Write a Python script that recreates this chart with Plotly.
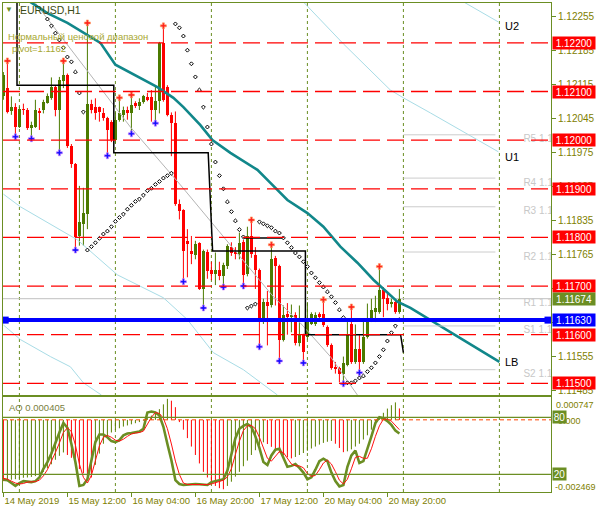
"""EURUSD H1 chart in MT4 style: candles, indicators, pivot levels, AO + stochastic pane."""

import plotly.graph_objects as go

# ---------------------------------------------------------------- data
# bar 0 = 14 May 2019 20:00, one bar per hour (weekend skipped)
bar_open = [
    1.12090, 1.12107, 1.12059, 1.12068, 1.12028, 1.12064, 1.12062, 1.12025, 1.12028, 1.12060,
    1.12061, 1.12077, 1.12086, 1.12110, 1.12062, 1.12122, 1.12134, 1.11989, 1.11950, 1.11803,
    1.11827, 1.11848, 1.12074, 1.12068, 1.12068, 1.12055, 1.12045, 1.12038, 1.12000, 1.12042,
    1.12052, 1.12062, 1.12055, 1.12076, 1.12070, 1.12079, 1.12088, 1.12088, 1.12062, 1.12081,
    1.12199, 1.12109, 1.12052, 1.12035, 1.11868, 1.11856, 1.11793, 1.11773, 1.11764, 1.11788,
    1.11693, 1.11770, 1.11732, 1.11725, 1.11732, 1.11721, 1.11742, 1.11781, 1.11769, 1.11766,
    1.11790, 1.11725, 1.11802, 1.11764, 1.11734, 1.11626, 1.11667, 1.11661, 1.11757, 1.11742,
    1.11589, 1.11643, 1.11636, 1.11641, 1.11582, 1.11599, 1.11595, 1.11623, 1.11622, 1.11643,
    1.11643, 1.11616, 1.11578, 1.11534, 1.11531, 1.11520, 1.11538, 1.11621, 1.11544, 1.11570,
    1.11544, 1.11595, 1.11630, 1.11647, 1.11647, 1.11691, 1.11676, 1.11664, 1.11667, 1.11647,
]
bar_high = [
    1.12140, 1.12158, 1.12090, 1.12076, 1.12069, 1.12075, 1.12066, 1.12038, 1.12083, 1.12066,
    1.12083, 1.12096, 1.12129, 1.12113, 1.12130, 1.12158, 1.12137, 1.11992, 1.11953, 1.11906,
    1.11902, 1.12238, 1.12083, 1.12086, 1.12069, 1.12066, 1.12048, 1.12041, 1.12057, 1.12083,
    1.12069, 1.12069, 1.12090, 1.12080, 1.12086, 1.12093, 1.12097, 1.12103, 1.12113, 1.12202,
    1.12233, 1.12113, 1.12057, 1.12059, 1.11878, 1.11858, 1.11817, 1.11803, 1.11793, 1.11790,
    1.11775, 1.11775, 1.11750, 1.11769, 1.11750, 1.11748, 1.11786, 1.11790, 1.11780, 1.11810,
    1.11795, 1.11822, 1.11836, 1.11780, 1.11736, 1.11674, 1.11690, 1.11785, 1.11762, 1.11744,
    1.11660, 1.11665, 1.11662, 1.11646, 1.11660, 1.11602, 1.11667, 1.11646, 1.11646, 1.11646,
    1.11672, 1.11619, 1.11582, 1.11544, 1.11534, 1.11555, 1.11626, 1.11659, 1.11621, 1.11599,
    1.11630, 1.11664, 1.11674, 1.11680, 1.11742, 1.11698, 1.11684, 1.11674, 1.11670, 1.11694,
]
bar_low = [
    1.12083, 1.12055, 1.12052, 1.12012, 1.12025, 1.12052, 1.12021, 1.12008, 1.12025, 1.12021,
    1.12055, 1.12075, 1.12083, 1.12049, 1.11977, 1.12107, 1.11984, 1.11943, 1.11780, 1.11783,
    1.11783, 1.11817, 1.12055, 1.12042, 1.12038, 1.12040, 1.11972, 1.11996, 1.11993, 1.12038,
    1.12038, 1.12042, 1.12018, 1.12066, 1.12062, 1.12075, 1.12080, 1.12038, 1.12038, 1.12055,
    1.12079, 1.12049, 1.11967, 1.11865, 1.11837, 1.11713, 1.11718, 1.11745, 1.11755, 1.11692,
    1.11660, 1.11715, 1.11712, 1.11702, 1.11712, 1.11702, 1.11735, 1.11762, 1.11755, 1.11755,
    1.11702, 1.11720, 1.11758, 1.11694, 1.11578, 1.11622, 1.11578, 1.11656, 1.11660, 1.11548,
    1.11586, 1.11600, 1.11605, 1.11578, 1.11576, 1.11546, 1.11590, 1.11620, 1.11618, 1.11630,
    1.11616, 1.11575, 1.11528, 1.11520, 1.11502, 1.11501, 1.11535, 1.11540, 1.11540, 1.11526,
    1.11540, 1.11592, 1.11626, 1.11626, 1.11643, 1.11636, 1.11650, 1.11656, 1.11643, 1.11643,
]
bar_close = [
    1.12134, 1.12058, 1.12069, 1.12028, 1.12065, 1.12062, 1.12026, 1.12032, 1.12062, 1.12057,
    1.12079, 1.12090, 1.12109, 1.12062, 1.12124, 1.12134, 1.11987, 1.11950, 1.11800, 1.11831,
    1.11851, 1.12075, 1.12062, 1.12055, 1.12057, 1.12045, 1.12021, 1.12000, 1.12042, 1.12055,
    1.12062, 1.12055, 1.12072, 1.12070, 1.12079, 1.12090, 1.12084, 1.12062, 1.12081, 1.12199,
    1.12083, 1.12052, 1.12035, 1.11868, 1.11854, 1.11773, 1.11786, 1.11766, 1.11786, 1.11694,
    1.11773, 1.11730, 1.11725, 1.11732, 1.11721, 1.11744, 1.11783, 1.11769, 1.11766, 1.11788,
    1.11722, 1.11802, 1.11765, 1.11732, 1.11628, 1.11667, 1.11660, 1.11756, 1.11742, 1.11589,
    1.11641, 1.11636, 1.11641, 1.11582, 1.11599, 1.11565, 1.11626, 1.11643, 1.11640, 1.11636,
    1.11619, 1.11578, 1.11531, 1.11531, 1.11520, 1.11541, 1.11602, 1.11544, 1.11570, 1.11544,
    1.11595, 1.11632, 1.11650, 1.11654, 1.11691, 1.11674, 1.11664, 1.11667, 1.11647, 1.11674,
]

# Parabolic SAR, bars 11..99
sar_first_bar = 11
sar_values = [
    1.12249, 1.12235, 1.12220, 1.12206, 1.12190, 1.12171, 1.12161, 1.12140, 1.12097, 1.12058,
    1.11774, 1.11781, 1.11789, 1.11798, 1.11807, 1.11813, 1.11822, 1.11833, 1.11841, 1.11848,
    1.11858, 1.11866, 1.11874, 1.11879, 1.11887, 1.11896, 1.11901, 1.11909, 1.11915, 1.11922,
    1.11927, 1.11932,
    1.12239, 1.12231, 1.12214, 1.12185, 1.12157, 1.12130, 1.12103, 1.12068, 1.12027, 1.11992,
    1.11955, 1.11927, 1.11900, 1.11873, 1.11853, 1.11834, 1.11816, 1.11801,
    1.11655, 1.11659, 1.11663,
    1.11832, 1.11828, 1.11824, 1.11820, 1.11813, 1.11809, 1.11799, 1.11789, 1.11779, 1.11768,
    1.11760, 1.11750, 1.11740, 1.11727, 1.11717, 1.11707, 1.11698, 1.11688, 1.11678, 1.11666,
    1.11651, 1.11635,
    1.11501, 1.11501, 1.11505, 1.11511, 1.11515, 1.11524, 1.11532, 1.11542, 1.11555, 1.11569,
    1.11587, 1.11604, 1.11618, 1.11631,
]

# Bill Williams fractals
fractal_up_bars = [1, 15, 21, 29, 32, 40, 62, 67, 80, 87, 94]
fractal_up_prices = [1.12163, 1.12163, 1.12241, 1.12087, 1.12093, 1.12235,
                     1.11836, 1.11785, 1.11672, 1.11657, 1.11740]
fractal_dn_bars = [3, 7, 14, 18, 26, 32, 38, 45, 50, 55, 60, 64, 69, 75, 85, 89]
fractal_dn_prices = [1.12007, 1.12003, 1.11974, 1.11774, 1.11968, 1.12013, 1.12035, 1.11709,
                     1.11655, 1.11698, 1.11700, 1.11575, 1.11546, 1.11542, 1.11499, 1.11522]

# teal centre line and its light-blue bands (bar, price)
teal_bars = [6, 11, 16, 24.25, 28, 34.25, 38.5, 42.5, 45, 49.25, 52.25, 56.75, 61, 63.5,
             66.75, 71, 76, 80, 84.25, 88.5, 92.5, 96, 98.5, 101.75, 124]
teal_prices = [1.12288, 1.12261, 1.12241, 1.12200, 1.12155, 1.12128, 1.12109, 1.12087,
               1.12068, 1.12031, 1.12000, 1.11974, 1.11953, 1.11939, 1.11912, 1.11877,
               1.11850, 1.11822, 1.11781, 1.11748, 1.11713, 1.11686, 1.11668, 1.11655, 1.11544]
band_u2_bars = [114.25, 123.75]
band_u2_prices = [1.12288, 1.12243]
band_u1_bars = [75.25, 85, 96.75, 100, 106.75, 115.5, 123.75]
band_u1_prices = [1.12282, 1.12198, 1.12103, 1.12087, 1.12056, 1.12015, 1.11976]
band_l1_bars = [0, 4.25, 18.5, 28.5, 40, 46, 52.5, 60, 68.5]
band_l1_prices = [1.11889, 1.11863, 1.11795, 1.11723, 1.11676, 1.11631, 1.11563, 1.11528, 1.11476]
band_l2_bars = [0, 4.25, 11.75, 16.75, 20, 24.5]
band_l2_prices = [1.11620, 1.11590, 1.11555, 1.11534, 1.11501, 1.11476]

# thin grey trend line
trend_bars = [8, 31.75, 44.25, 56.75, 67.5, 74.25, 81.75, 88.5]
trend_prices = [1.12282, 1.12027, 1.11908, 1.11785, 1.11678, 1.11624, 1.11555, 1.11476]

# "normal price range" step line (black)
range_bars = [3.4, 3.4, 27.6, 27.6, 51.2, 52.3, 75.5, 75.5, 99.3, 100]
range_prices = [1.12300, 1.12113, 1.12113, 1.11974, 1.11974, 1.11772, 1.11772, 1.11600,
                1.11600, 1.11563]
range_hi_bars = [60, 70]
range_hi_prices = [1.11799, 1.11799]

# horizontal objects
red_levels = [1.1220, 1.1210, 1.1200, 1.1190, 1.1180, 1.1170, 1.1160, 1.1150]
blue_level = 1.11630
bid_price = 1.11674

# daily pivots (drawn on the current day)
pivot_names = ["R5", "R4", "R3", "R2", "R1", "S1", "S2"]
pivot_prices = [1.12011, 1.11922, 1.11863, 1.11770, 1.11674, 1.11618, 1.11528]
pivot_start_bar, pivot_end_bar = 100, 123

# period separators (midnight bars)
separator_bars = [4, 28, 52, 76, 100, 124]

price_ticks = [1.12255, 1.12185, 1.12115, 1.12045, 1.11975, 1.11905,
               1.11835, 1.11765, 1.11695, 1.11625, 1.11555, 1.11485]
time_tick_bars = [0, 16, 32, 48, 64, 80, 96]
time_tick_labels = ["14 May 2019", "15 May 12:00", "16 May 04:00", "16 May 20:00",
                    "17 May 12:00", "20 May 04:00", "20 May 20:00"]

# Awesome Oscillator
ao_values = [
    -0.00218, -0.00216, -0.00213, -0.00211, -0.00209, -0.00206, -0.00205, -0.00203, -0.00200, -0.00195,
    -0.00185, -0.00172, -0.00158, -0.00142, -0.00128, -0.00116, -0.00125, -0.00135, -0.00155, -0.00175,
    -0.00190, -0.00200, -0.00205, -0.00160, -0.00120, -0.00085, -0.00060, -0.00045, -0.00036, -0.00030,
    -0.00024, -0.00020, -0.00016, -0.00012, -0.00008, -0.00003, 0.00006, 0.00015, 0.00026, 0.00038,
    0.00055, 0.000747, 0.00068, 0.00045, -0.00008, -0.00035, -0.00065, -0.00095, -0.00125, -0.00155,
    -0.00185, -0.00205, -0.00225, -0.00235, -0.00243, -0.002469, -0.00235, -0.00220, -0.00202, -0.00185,
    -0.00165, -0.00145, -0.00125, -0.00108, -0.00090, -0.00080, -0.00086, -0.00096, -0.00106, -0.00116,
    -0.00126, -0.00133, -0.00137, -0.00132, -0.00125, -0.00118, -0.00110, -0.00102, -0.00095, -0.00088,
    -0.00082, -0.00078, -0.00075, -0.00085, -0.00100, -0.00115, -0.00112, -0.00105, -0.00095, -0.00085,
    -0.00070, -0.00055, -0.00035, -0.00015, 0.00008, 0.00025, 0.00040, 0.00052, 0.00062, 0.000405,
]

# Stochastic %K / %D
stoch_main = [
    14.5, 14, 11, 8, 11, 13, 12.5, 12, 13, 17,
    26, 33, 42, 54, 64, 74, 69, 52, 33, 8,
    9, 15, 33, 54, 62, 62, 59, 55, 54, 56,
    61, 63, 63.5, 64, 65, 68, 85, 86, 85, 82,
    70, 52, 35, 14, 10, 9, 9.5, 9.6, 10, 9.8,
    9.3, 9, 12, 13, 13.5, 15, 24, 40, 58, 68,
    71, 73, 70, 60, 48, 33, 30, 40, 46, 47,
    37, 28, 29, 31, 27, 22, 15, 17, 25, 34,
    36.5, 34, 22, 13, 7.5, 9, 28, 40, 45, 32,
    34, 46, 60, 74, 80, 79, 76, 72, 66, 63,
]
stoch_signal = [
    16, 15, 13, 11, 10, 10.5, 12, 12.5, 12.5, 14,
    18.5, 25, 33.5, 43, 53, 64, 69, 65, 51, 31,
    17, 11, 19, 34, 50, 59, 61, 59, 56, 55,
    57, 60, 62.5, 63.5, 64, 65.5, 73, 80, 85, 84,
    79, 68, 52, 34, 20, 11, 9.5, 9.4, 9.7, 9.8,
    9.7, 9.4, 10, 11.5, 13, 14, 17.5, 26, 41, 55,
    66, 71, 71.5, 68, 59, 47, 37, 34, 39, 44,
    43, 37, 31, 29, 29, 27, 21, 18, 19, 25,
    32, 35, 31, 23, 14, 10, 15, 26, 38, 39,
    37, 37, 47, 60, 71, 78, 78, 76, 71, 67,
]
stoch_levels = [80, 20]

# ---------------------------------------------------------------- style
_FONT = "Liberation Sans, Arial, sans-serif"
_OLIVE = "#6b8e23"
_AXIS_TEXT = "#808000"
_UP = "#4b7a00"
_DOWN = "#ff0000"

# pixel geometry of the two panes (596 x 514 window)
_W, _H = 596, 514
_PLOT_L, _PLOT_R, _PLOT_T, _PLOT_B = 3, 551, 3, 492
_MAIN_BOTTOM_PX, _OSC_TOP_PX = 395, 397

_X_RANGE = [-0.1, 136.9]
_PRICE_RANGE = [1.11476, 1.12282]
_AO_RANGE = [-0.002566, 0.000812]
_STOCH_RANGE = [1.6, 101.3]


def _paper_x(px: float) -> float:
    return (px - _PLOT_L) / (_PLOT_R - _PLOT_L)


def _paper_y(py: float) -> float:
    return 1 - (py - _PLOT_T) / (_PLOT_B - _PLOT_T)


def _segments(xs, y0s, y1s):
    """Vertical segments separated by None, for wicks and histogram bars."""
    sx, sy = [], []
    for x, a, b in zip(xs, y0s, y1s):
        sx += [x, x, None]
        sy += [a, b, None]
    return sx, sy


def _add_candles(fig: go.Figure) -> None:
    idx = list(range(len(bar_open)))
    up = [c >= o for o, c in zip(bar_open, bar_close)]
    for is_up, color in ((True, _UP), (False, _DOWN)):
        sel = [i for i in idx if up[i] == is_up]
        wx, wy = _segments(sel, [bar_low[i] for i in sel], [bar_high[i] for i in sel])
        fig.add_trace(go.Scatter(x=wx, y=wy, mode="lines", hoverinfo="skip",
                                 line=dict(color=color, width=1)))
    fig.add_trace(
        go.Bar(
            x=idx,
            y=[max(abs(c - o), 0.000012) for o, c in zip(bar_open, bar_close)],
            base=[min(o, c) for o, c in zip(bar_open, bar_close)],
            width=0.75,
            marker=dict(color=[_UP if u else _DOWN for u in up], line_width=0),
            hoverinfo="skip",
        )
    )


def _line(fig, xs, ys, color, width, **kw):
    fig.add_trace(go.Scatter(x=xs, y=ys, mode="lines", hoverinfo="skip",
                             line=dict(color=color, width=width), **kw))


fig = go.Figure()

# ---------------------------------------------------------------- main pane
_add_candles(fig)

_line(fig, band_u2_bars, band_u2_prices, "#a8dce6", 1)
_line(fig, band_u1_bars, band_u1_prices, "#a8dce6", 1)
_line(fig, band_l1_bars, band_l1_prices, "#a8dce6", 1)
_line(fig, band_l2_bars, band_l2_prices, "#a8dce6", 1)
_line(fig, trend_bars, trend_prices, "#b4b4b4", 1)
_line(fig, range_bars, range_prices, "#000000", 1.5)
_line(fig, range_hi_bars, range_hi_prices, "#000000", 1.5)
_line(fig, teal_bars, teal_prices, "#11878a", 2.6)

for p in pivot_prices:
    _line(fig, [pivot_start_bar, pivot_end_bar], [p, p], "#cccccc", 1)
fig.add_trace(
    go.Scatter(
        x=[130] * len(pivot_prices),
        y=pivot_prices,
        mode="text",
        text=[f"{n} {p:.5f}" for n, p in zip(pivot_names, pivot_prices)],
        textposition="bottom right",
        textfont=dict(family=_FONT, size=10, color="#c8c8c8"),
        hoverinfo="skip",
    )
)

fig.add_trace(
    go.Scatter(
        x=list(range(sar_first_bar, sar_first_bar + len(sar_values))),
        y=sar_values,
        mode="markers",
        marker=dict(symbol="diamond", size=3, color="white",
                    line=dict(color="black", width=1)),
        hoverinfo="skip",
    )
)
fig.add_trace(
    go.Scatter(x=fractal_up_bars, y=fractal_up_prices, mode="markers", hoverinfo="skip",
               marker=dict(symbol="cross", size=5, color="#ff2020",
                           line=dict(color="#ffa060", width=0.6)))
)
fig.add_trace(
    go.Scatter(x=fractal_dn_bars, y=fractal_dn_prices, mode="markers", hoverinfo="skip",
               marker=dict(symbol="cross", size=5, color="#1010ff",
                           line=dict(color="#d080ff", width=0.6)))
)

# handles of the selected blue horizontal line
fig.add_trace(
    go.Scatter(x=[_X_RANGE[0] + 0.55, _X_RANGE[1] - 0.75], y=[blue_level] * 2,
               mode="markers", hoverinfo="skip",
               marker=dict(symbol="square", size=7, color="#0000ff"))
)
fig.add_trace(
    go.Scatter(x=[_X_RANGE[0] + 0.55, _X_RANGE[1] - 0.75], y=[blue_level] * 2,
               mode="markers", hoverinfo="skip",
               marker=dict(symbol="square", size=2, color="white"))
)

# ---------------------------------------------------------------- oscillator pane
ao_idx = list(range(len(ao_values)))
ao_up = [i > 0 and ao_values[i] > ao_values[i - 1] for i in ao_idx]
for is_up, color in ((True, "#5a8000"), (False, _DOWN)):
    sel = [i for i in ao_idx if ao_up[i] == is_up]
    hx, hy = _segments(sel, [0] * len(sel), [ao_values[i] for i in sel])
    fig.add_trace(go.Scatter(x=hx, y=hy, mode="lines", hoverinfo="skip", xaxis="x2",
                             yaxis="y2", line=dict(color=color, width=1)))

_line(fig, list(range(len(stoch_main))), stoch_main, _OLIVE, 2.6, xaxis="x2", yaxis="y3")
_line(fig, list(range(len(stoch_signal))), stoch_signal, "#ff1010", 1, xaxis="x2", yaxis="y3")

# ---------------------------------------------------------------- shapes
shapes = []
for b in separator_bars:
    shapes.append(dict(type="line", xref="x", yref="paper", x0=b, x1=b, y0=0, y1=1,
                       layer="below", line=dict(color=_OLIVE, width=1, dash="3px,3px")))
shapes.append(dict(type="line", xref="paper", yref="y", x0=0, x1=1, y0=bid_price,
                   y1=bid_price, layer="below", line=dict(color="#c0c0c0", width=1)))
for lv in red_levels:
    shapes.append(dict(type="line", xref="paper", yref="y", x0=0, x1=1, y0=lv, y1=lv,
                       layer="above", line=dict(color="#ff0000", width=1.3, dash="17px,7px")))
shapes.append(dict(type="line", xref="paper", yref="y", x0=0, x1=1, y0=blue_level,
                   y1=blue_level, layer="above", line=dict(color="#0000ff", width=4)))
for lv in stoch_levels:
    shapes.append(dict(type="line", xref="paper", yref="y3", x0=0, x1=1, y0=lv, y1=lv,
                       layer="above", line=dict(color=_OLIVE, width=1.3)))
shapes.append(dict(type="line", xref="paper", yref="y2", x0=0, x1=1, y0=0, y1=0,
                   layer="above", line=dict(color="#ff4500", width=1, dash="4px,3px")))

# ---------------------------------------------------------------- annotations
def _box(text, y, yref, bg, width=42):
    return dict(text=text, xref="paper", x=1, xanchor="left", xshift=1, yref=yref, y=y,
                yanchor="middle", showarrow=False, bgcolor=bg, width=width, height=12,
                font=dict(family=_FONT, size=10, color="white"), borderpad=0)


def _label(text, px, py, color, size=10, anchor="left"):
    return dict(text=text, xref="paper", yref="paper", x=_paper_x(px), y=_paper_y(py),
                xanchor=anchor, yanchor="middle", showarrow=False,
                font=dict(family=_FONT, size=size, color=color))


annotations = [
    _label("▼", 9, 10, _OLIVE, 8, "center"),
    _label("EURUSD,H1", 18, 10, "#3b4a14", 10.5),
    _label("Нормальный ценовой диапазон", 6, 36, "#a8a832", 9.5),
    _label("pivot=1.1162", 10, 48, "#a8a832", 9.5),
    _label("AO 0.000405", 7, 407, "#7a8040", 9.5),
    _label("0.000747", 554, 405, _AXIS_TEXT, 9),
    _label("0.000", 556, 421, _AXIS_TEXT, 9),
    _label("-0.002469", 553, 487, _AXIS_TEXT, 9),
]
for lv in red_levels:
    annotations.append(_box(f"{lv:.5f}", lv, "y", "#ff0000"))
annotations.append(_box(f"{bid_price:.5f}", bid_price, "y", _OLIVE))
annotations.append(_box(f"{blue_level:.5f}", blue_level, "y", "#0000ff"))
for lv in stoch_levels:
    annotations.append(_box(str(lv), lv, "y3", _OLIVE, width=13))
for name, y in (("U2", 1.12235), ("U1", 1.11966), ("LB", 1.11544)):
    annotations.append(dict(text=name, xref="x", x=125, xanchor="left", yref="y", y=y,
                            yanchor="middle", showarrow=False,
                            font=dict(family=_FONT, size=11, color="#000000")))

# ---------------------------------------------------------------- layout
main_bottom = _paper_y(_MAIN_BOTTOM_PX)
osc_top = _paper_y(_OSC_TOP_PX)
frame = dict(showline=True, mirror=True, linecolor=_OLIVE, linewidth=1, showgrid=False,
             zeroline=False, automargin=False)

fig.update_layout(
    width=_W,
    height=_H,
    margin=dict(l=_PLOT_L, r=_W - _PLOT_R, t=_PLOT_T, b=_H - _PLOT_B, pad=0,
                autoexpand=False),
    paper_bgcolor="white",
    plot_bgcolor="white",
    showlegend=False,
    bargap=0,
    shapes=shapes,
    annotations=annotations,
    xaxis=dict(domain=[0, 1], range=_X_RANGE, anchor="y", showticklabels=False, ticks="",
               **frame),
    yaxis=dict(domain=[main_bottom, 1], range=_PRICE_RANGE, side="right", anchor="x",
               tickvals=price_ticks, ticktext=[f"{v:.5f}" for v in price_ticks],
               ticks="outside", ticklen=4, tickcolor=_OLIVE,
               tickfont=dict(family=_FONT, size=10, color=_AXIS_TEXT), **frame),
    xaxis2=dict(domain=[0, 1], range=_X_RANGE, anchor="y2", matches="x",
                tickvals=time_tick_bars, ticktext=time_tick_labels, tickangle=0,
                ticklabelposition="outside right", ticks="outside", ticklen=4,
                tickcolor=_OLIVE, tickfont=dict(family=_FONT, size=9.5, color=_AXIS_TEXT),
                **frame),
    yaxis2=dict(domain=[0, osc_top], range=_AO_RANGE, side="right", anchor="x2",
                showticklabels=False, ticks="", **frame),
    yaxis3=dict(range=_STOCH_RANGE, overlaying="y2", anchor="x2", visible=False),
)

# the page body has a default 8px margin; drop it so the figure fills the window
fig.write_html("out.html", config={"displayModeBar": False},
               post_script="document.body.style.margin='0';")
